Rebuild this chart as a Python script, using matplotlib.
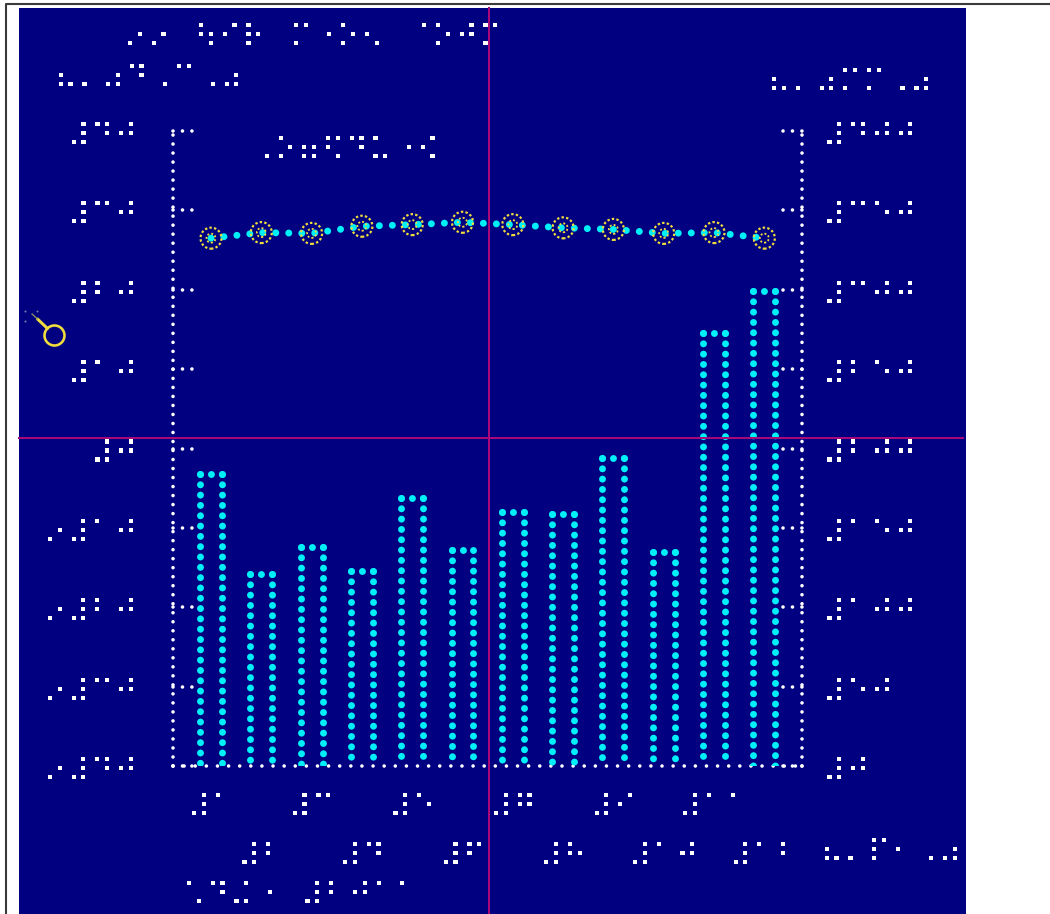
import numpy as np
import matplotlib
matplotlib.use("Agg")
import matplotlib.pyplot as plt
from matplotlib.font_manager import FontProperties
from matplotlib.textpath import TextPath
from matplotlib.path import Path
from matplotlib.patheffects import AbstractPathEffect
from matplotlib.transforms import Affine2D, blended_transform_factory, ScaledTranslation
from matplotlib.patches import Rectangle, Circle
from matplotlib.lines import Line2D

plt.rcParams["lines.scale_dashes"] = False
plt.rcParams["font.family"] = ["DejaVu Sans"]

# ---- data -------------------------------------------------------------
months = list(range(1, 13))
rainfall = [184, 121, 138, 123, 169, 136, 160, 159, 194, 135, 273, 299]          # right axis
temperature = [26.5, 27.2, 27.1, 28.0, 28.2, 28.5, 28.2, 27.8, 27.6, 27.1, 27.2, 26.5]  # left axis
temp_ticks = [-40, -30, -20, -10, 0, 10, 20, 30, 40]
rain_ticks = [0, 50, 100, 150, 200, 250, 300, 350, 400]

title = "⠔⠔⠀⠳⠊⠗⠀⠍⠐⠕⠢⠀⠈⠕⠚⠍"
temp_axis_name = "⠦⠄⠴⠙⠠⠉⠠⠴"
rain_axis_name = "⠦⠄⠴⠍⠍⠠⠴"
subtitle = "⠠⠕⠶⠫⠙⠥⠐⠪"
month_axis_name = "⠦⠄⠏⠂⠠⠴"
footer = "⠡⠙⠬⠐⠀⠼⠃⠚⠁⠁"

DIGITS = {"1": "⠁", "2": "⠃", "3": "⠉", "4": "⠙", "5": "⠑",
          "6": "⠋", "7": "⠛", "8": "⠓", "9": "⠊", "0": "⠚"}


def to_braille(n):
    s = "⠔" if n < 0 else ""
    return s + "⠼" + "".join(DIGITS[c] for c in str(abs(int(n))))


# ---- styling ----------------------------------------------------------
NAVY = "#000080"
CYAN = "#00f0f8"
WHITE = "#ffffff"
YELLOW = "#f0dc3c"
MAGENTA = "#a8087a"
W, H, DPI = 1050, 914, 100
PT = 72.0 / DPI  # points per pixel

fig = plt.figure(figsize=(W / DPI, H / DPI), dpi=DPI, facecolor="white")
PX = Affine2D().scale(1.0 / W, -1.0 / H).translate(0, 1) + fig.transFigure

# ---- braille cell geometry --------------------------------------------
BFAM = "DejaVu Sans"
BFP = FontProperties(family=BFAM)


def _ext(s):
    return TextPath((0, 0), s, size=100, prop=BFP).get_extents()


e1, e11, eall = _ext("\u2801"), _ext("\u2801\u2801"), _ext("\u283f")
ADV = e11.x1 - e1.x1                       # cell advance, font units (100 per em)
DOT = e1.x1 - e1.x0
DX = (eall.x1 - eall.x0) - DOT
DY = ((eall.y1 - eall.y0) - (e1.y1 - e1.y0)) / 2.0
CX1 = (e1.x0 + e1.x1) / 2.0
CY1 = (e1.y0 + e1.y1) / 2.0
XMID = CX1 + DX / 2.0                       # horizontal centre of the dot grid
YMID = CY1 - DY                             # middle dot row

PITCH = 23.7                                # px between cells
kpx = PITCH / ADV
FS = 100 * kpx * 72.0 / DPI
DXT = 9.7 / kpx                             # embossed dot spacing, font units
DYT = 9.0 / kpx
DSCALE = 4.2 / (DOT * kpx)                  # embossed dot diameter


class BrailleCells(AbstractPathEffect):
    """Redraws each braille dot on an embossing grid: wider dot spacing, smaller dots."""

    def draw_path(self, renderer, gc, tpath, affine, rgbFace=None):
        v = np.asarray(tpath.vertices, dtype=float)
        c = tpath.codes
        if c is None or len(v) == 0:
            renderer.draw_path(gc, tpath, affine, rgbFace)
            return
        out = v.copy()
        starts = list(np.flatnonzero(c == Path.MOVETO)) + [len(v)]
        for s0, s1 in zip(starts[:-1], starts[1:]):
            seg = v[s0:s1]
            pts = seg[c[s0:s1] != Path.CLOSEPOLY]
            if len(pts) == 0:
                continue
            cx = (pts[:, 0].min() + pts[:, 0].max()) / 2
            cy = (pts[:, 1].min() + pts[:, 1].max()) / 2
            cell = np.floor(cx / ADV)
            col = 1 if (cx - cell * ADV) > XMID else 0
            row = int(np.clip(np.rint((CY1 - cy) / DY), 0, 2))
            ncx = cell * ADV + XMID + (col - 0.5) * DXT
            ncy = YMID + (1 - row) * DYT
            out[s0:s1, 0] = ncx + (seg[:, 0] - cx) * DSCALE
            out[s0:s1, 1] = ncy + (seg[:, 1] - cy) * DSCALE
        renderer.draw_path(gc, Path(out, c), affine, rgbFace)


BPE = [BrailleCells()]
BASE_DROP = YMID * kpx                      # baseline lies this far below the middle dot row
COL1 = (XMID - DXT / 2) * kpx               # first dot column, from the text origin
COL2 = (XMID + DXT / 2) * kpx
BTXT = dict(fontsize=FS, family=BFAM, color=WHITE, va="baseline", path_effects=BPE)

# descent of a text line at this size, so the lowest line stays inside the figure
_fp_sized = FontProperties(family=BFAM, size=FS)
_rend = fig.canvas.get_renderer()
DESC = max(_rend.get_text_width_height_descent(s, _fp_sized, ismath=False)[2]
           for s in ("lp", footer))


def braille(x0, ym, s):
    fig.text(x0 - COL1, ym + BASE_DROP, s, transform=PX, ha="left", zorder=3, **BTXT)


# background panel and frame
fig.add_artist(Rectangle((19, 7.5), 947, 915, transform=PX, facecolor=NAVY,
                         edgecolor="none", zorder=-10))
fig.add_artist(Line2D([5.5, 5.5, 1050], [914, 3.5, 3.5], transform=PX,
                      color="#3a3a3a", lw=1.5, zorder=30))

# ---- axes -------------------------------------------------------------
L, R, T, B = 173, 802, 131, 766
ax = fig.add_axes([L / W, 1 - B / H, (R - L) / W, (B - T) / H])
ax.set_facecolor("none")
ax2 = ax.twinx()
ax2.set_facecolor("none")

x = np.arange(len(months))
step_px = 50.3
first_px = 211.0
ax.set_xlim((L - first_px) / step_px, (R - first_px) / step_px)
ax.set_ylim(temp_ticks[0], temp_ticks[-1])
ax2.set_ylim(rain_ticks[0], rain_ticks[-1])

for a in (ax, ax2):
    a.set_xticks([])
    a.set_yticks([])
    for s in a.spines.values():
        s.set_visible(False)

for sp, gap in ((ax.spines["left"], 9.0), (ax.spines["bottom"], 11.1), (ax2.spines["right"], 9.0)):
    sp.set_visible(True)
    sp.set_color(WHITE)
    sp.set_linewidth(3.6 * PT)
    sp.set_linestyle((0, (0.01, gap * PT)))
    sp.set_capstyle("round")

# dotted tick marks pointing into the plot
tick_len = 19.5 / (R - L)
tick_style = dict(colors=WHITE, linewidths=3.6 * PT, linestyles=(0, (0.01, 9.45 * PT)),
                  capstyle="round", clip_on=False)
ax.hlines(temp_ticks, 0, tick_len, transform=ax.get_yaxis_transform(), **tick_style)
ax2.hlines(rain_ticks, 1 - tick_len, 1, transform=ax2.get_yaxis_transform(), **tick_style)

# tick labels
left_right_edge = 131 + PITCH - COL2
off_l = ScaledTranslation((left_right_edge - L) / DPI, -(2 + BASE_DROP) / DPI, fig.dpi_scale_trans)
for v in temp_ticks:
    ax.text(0, v, to_braille(v), transform=ax.get_yaxis_transform() + off_l,
            ha="right", clip_on=False, **BTXT)
off_r = ScaledTranslation((829.5 - COL1 - R) / DPI, -(2 + BASE_DROP) / DPI, fig.dpi_scale_trans)
for v in rain_ticks:
    ax2.text(1, v, to_braille(v), transform=ax2.get_yaxis_transform() + off_r,
             ha="left", clip_on=False, **BTXT)

# category labels, staggered on two rows
xlab_tr = blended_transform_factory(ax.transData, PX)
for i, m in enumerate(months):
    ym = 804.3 if i % 2 == 0 else 853.0
    ax.text(x[i], ym + BASE_DROP, to_braille(m), transform=xlab_tr, ha="center",
            clip_on=False, **BTXT)

# ---- bars: dotted open outlines on the right axis --------------------
bw = 0.437
bar_w_px = bw * step_px
side = dict(colors=CYAN, linewidths=7.0 * PT, linestyles=(0, (0.01, 10.3 * PT)),
            capstyle="round", zorder=3)
ax2.vlines(x - bw / 2, rainfall, 0, **side)
ax2.vlines(x + bw / 2, rainfall, 0, **side)
ax2.hlines(rainfall, x - bw / 2, x + bw / 2, colors=CYAN, linewidths=7.0 * PT,
           linestyles=(0, (0.01, bar_w_px / 2 * PT - 0.05)), capstyle="round", zorder=3)

# ---- line with dotted ring markers on the left axis ------------------
ax.plot(x, temperature, color=CYAN, lw=7 * PT, linestyle=(0, (0.01, 13 * PT)),
        dash_capstyle="round", zorder=4)
ax.scatter(x, temperature, s=(21 * PT) ** 2, facecolors="none", edgecolors=YELLOW,
           linewidths=2.2 * PT, linestyles=(0, (2.4 * PT, 2.2 * PT)), zorder=5)
ax.scatter(x, temperature, s=(9 * PT) ** 2, facecolors="none", edgecolors=YELLOW,
           linewidths=1.8 * PT, linestyles=(0, (2.0 * PT, 2.0 * PT)), zorder=5)

# ---- text blocks ------------------------------------------------------
braille(130, 34, title)
braille(60.7, 75, temp_axis_name)
braille(774.2, 79, rain_axis_name)
braille(256.9, 146.7, subtitle)
braille(826.7, 849, month_axis_name)
braille(189, min(898.0, H - 1.5 - DESC - BASE_DROP), footer)

# ---- pointer icon and crosshair ----------------------------------------
fig.add_artist(Circle((54.5, 335.5), 10, transform=PX, fill=False,
                      edgecolor=YELLOW, lw=2.6 * PT, zorder=6))
fig.add_artist(Line2D([47.5, 37.5], [328.5, 319], transform=PX, color=YELLOW,
                      lw=3.0 * PT, solid_capstyle="round", zorder=6))
fig.add_artist(Line2D([37.5, 32], [319, 314], transform=PX, color="#9a9a60",
                      lw=1.2 * PT, zorder=6))
fig.add_artist(Line2D([24.7, 37, 24.7], [311, 311, 321], transform=PX, linestyle="none",
                      marker="o", ms=2 * PT, color="#8080b0", mec="none", zorder=6))

fig.add_artist(Line2D([489, 489], [7.5, 914], transform=PX, color=MAGENTA, lw=2 * PT, zorder=20))
fig.add_artist(Line2D([19, 963], [438, 438], transform=PX, color=MAGENTA, lw=2 * PT, zorder=20))

fig.savefig("out.png", dpi=DPI, facecolor="white")
